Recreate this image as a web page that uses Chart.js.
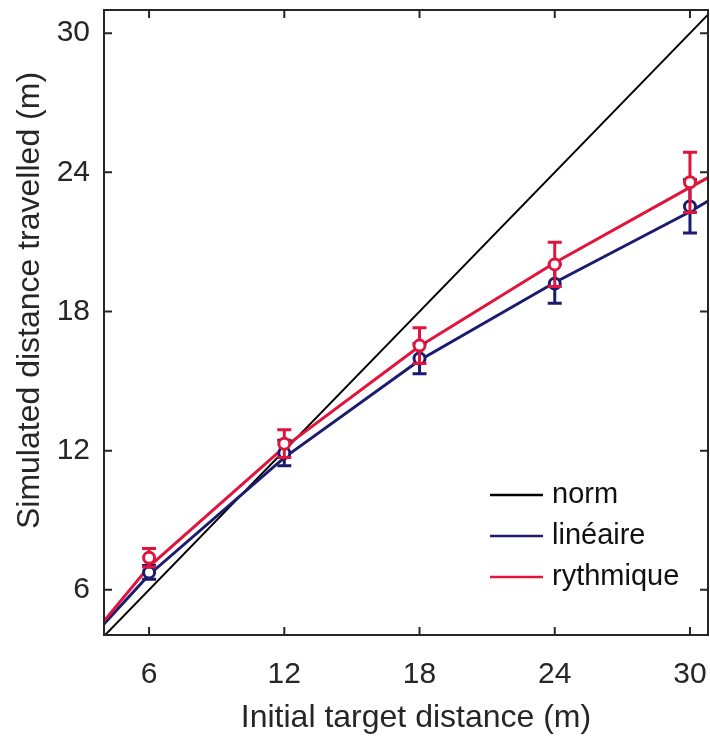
<!DOCTYPE html>
<html>
<head>
<meta charset="utf-8">
<script src="https://cdn.jsdelivr.net/npm/chart.js@4"></script>
<style>
  body { margin: 0; background: #fff; }
  #wrap { width: 710px; height: 740px; }
</style>
</head>
<body>
<div id="wrap"><canvas id="distanceChart" width="710" height="740"></canvas></div>
<script>
// Initial target distances (m) and tick labels
const targets = [6, 12, 18, 24, 30];
const xTicks = [6, 12, 18, 24, 30];
const yTicks = [6, 12, 18, 24, 30];

// Mean simulated distance travelled and error (m)
const linMeans = [6.75, 11.9, 15.97, 19.2, 22.53];
const linErrors = [0.3, 0.55, 0.65, 0.85, 1.15];
const rytMeans = [7.38, 12.3, 16.53, 20.03, 23.57];
const rytErrors = [0.4, 0.6, 0.77, 0.95, 1.3];

// Curves drawn across the whole axis
const curveX = [4, 6, 12, 18, 24, 30, 30.8];
const linCurve = [4.52, 6.65, 11.7, 15.9, 19.25, 22.3, 22.76];
const rytCurve = [4.65, 7.0, 12.15, 16.5, 20.1, 23.35, 23.77];
const normX = [4, 31];
const normY = [4, 31];

const BLUE = '#1b1b6f';
const RED = '#e1143c';
const INK = '#262626';
const FONT = "'Liberation Sans', Arial, sans-serif";

function pts(xs, ys) {
    return xs.map((x, i) => ({ x: x, y: ys[i] }));
}

// Keep the plot box fixed, no automatic room for edge labels
function fixBox(s) {
    s.paddingTop = 0;
    s.paddingBottom = 0;
    s.paddingLeft = 0;
    s.paddingRight = 0;
}

// Vertical error bars with caps, drawn under the circle markers
const errorBars = {
    id: 'errorBars',
    beforeDatasetDraw(chart, args) {
        const ds = chart.data.datasets[args.index];
        if (!ds.errors) return;
        const ctx = chart.ctx;
        const xs = chart.scales.x;
        const ys = chart.scales.y;
        ctx.save();
        ctx.strokeStyle = ds.borderColor;
        ctx.lineWidth = 3;
        ds.data.forEach((p, i) => {
            const px = xs.getPixelForValue(p.x);
            const top = ys.getPixelForValue(p.y + ds.errors[i]);
            const bot = ys.getPixelForValue(p.y - ds.errors[i]);
            ctx.beginPath();
            ctx.moveTo(px, top); ctx.lineTo(px, bot);
            ctx.moveTo(px - 7, top); ctx.lineTo(px + 7, top);
            ctx.moveTo(px - 7, bot); ctx.lineTo(px + 7, bot);
            ctx.stroke();
        });
        ctx.restore();
    }
};

// Box around the plot with inward ticks on every side, x labels and axis titles
const frame = {
    id: 'frame',
    afterDraw(chart) {
        const ctx = chart.ctx;
        const a = chart.chartArea;
        const xs = chart.scales.x;
        const ys = chart.scales.y;
        const len = 8;
        ctx.save();
        ctx.strokeStyle = INK;
        ctx.lineWidth = 2;
        ctx.strokeRect(a.left, a.top, a.right - a.left, a.bottom - a.top);
        ctx.beginPath();
        xs.ticks.forEach(t => {
            const px = xs.getPixelForValue(t.value);
            ctx.moveTo(px, a.bottom); ctx.lineTo(px, a.bottom - len);
            ctx.moveTo(px, a.top); ctx.lineTo(px, a.top + len);
        });
        ys.ticks.forEach(t => {
            const py = ys.getPixelForValue(t.value);
            ctx.moveTo(a.left, py); ctx.lineTo(a.left + len, py);
            ctx.moveTo(a.right, py); ctx.lineTo(a.right - len, py);
        });
        ctx.stroke();

        ctx.fillStyle = INK;
        ctx.textAlign = 'center';
        ctx.textBaseline = 'middle';
        ctx.font = '30px ' + FONT;
        xs.ticks.forEach(t => {
            ctx.fillText(String(t.value), xs.getPixelForValue(t.value), a.bottom + 40);
        });
        ctx.font = '32px ' + FONT;
        ctx.fillText('Initial target distance (m)', (a.left + a.right) / 2 + 10, 718);
        ctx.translate(30, (a.top + a.bottom) / 2 - 22);
        ctx.rotate(-Math.PI / 2);
        ctx.fillText('Simulated distance travelled (m)', 0, 0);
        ctx.restore();
    }
};

// Legend inside the lower right corner of the plot
const insideLegend = {
    id: 'insideLegend',
    afterDraw(chart) {
        const ctx = chart.ctx;
        const a = chart.chartArea;
        const items = chart.data.datasets.filter(d => d.inLegend).reverse();
        ctx.save();
        ctx.font = '29px ' + FONT;
        ctx.textBaseline = 'middle';
        ctx.fillStyle = '#111';
        items.forEach((d, i) => {
            const y = a.bottom - 140 + i * 41;
            const x0 = a.right - 218;
            ctx.strokeStyle = d.borderColor;
            ctx.lineWidth = 2.5;
            ctx.beginPath();
            ctx.moveTo(x0, y); ctx.lineTo(x0 + 53, y);
            ctx.stroke();
            ctx.fillText(d.label, x0 + 62, y);
        });
        ctx.restore();
    }
};

const ctx = document.getElementById('distanceChart');
new Chart(ctx, {
    type: 'line',
    data: {
        datasets: [
            {
                label: 'rythmique', data: pts(targets, rytMeans), errors: rytErrors,
                showLine: false, borderColor: RED, pointBackgroundColor: '#fff',
                pointBorderColor: RED, pointRadius: 5.5, pointBorderWidth: 3, order: 0
            },
            {
                label: 'linéaire', data: pts(targets, linMeans), errors: linErrors,
                showLine: false, borderColor: BLUE, pointBackgroundColor: '#fff',
                pointBorderColor: BLUE, pointRadius: 5.5, pointBorderWidth: 3, order: 1
            },
            {
                label: 'rythmique', data: pts(curveX, rytCurve), borderColor: RED,
                borderWidth: 3, pointRadius: 0, inLegend: true, order: 2
            },
            {
                label: 'linéaire', data: pts(curveX, linCurve), borderColor: BLUE,
                borderWidth: 3, pointRadius: 0, inLegend: true, order: 3
            },
            {
                label: 'norm', data: pts(normX, normY), borderColor: '#000',
                borderWidth: 2, pointRadius: 0, inLegend: true, order: 4
            }
        ]
    },
    options: {
        responsive: false,
        animation: false,
        layout: { autoPadding: false, padding: { top: 10, right: 2, left: 0, bottom: 0 } },
        plugins: {
            legend: { display: false },
            tooltip: { enabled: false }
        },
        scales: {
            x: {
                type: 'linear',
                min: 4,
                max: 30.8,
                afterBuildTicks: s => { s.ticks = xTicks.map(v => ({ value: v })); },
                afterFit: s => { s.height = 105; fixBox(s); },
                grid: { display: false, drawTicks: false },
                border: { display: false },
                ticks: { display: false }
            },
            y: {
                type: 'linear',
                min: 4.05,
                max: 31,
                afterBuildTicks: s => { s.ticks = yTicks.map(v => ({ value: v })); },
                afterFit: s => { s.width = 104; fixBox(s); },
                grid: { display: false, drawTicks: false },
                border: { display: false },
                ticks: { color: INK, font: { family: FONT, size: 30 }, padding: 14 }
            }
        }
    },
    plugins: [errorBars, frame, insideLegend]
});
</script>
</body>
</html>
